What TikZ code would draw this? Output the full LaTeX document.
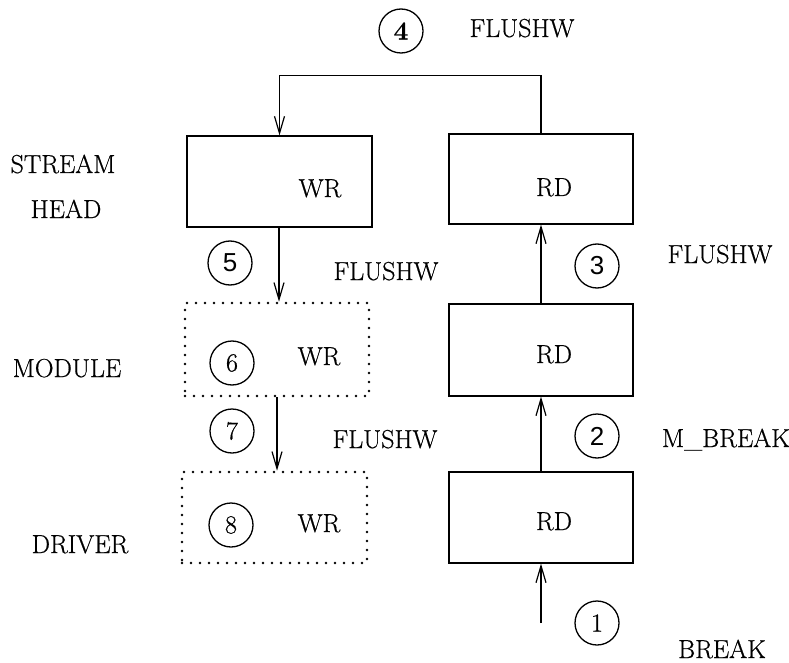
\documentclass[tikz,border=0pt]{standalone}
\usepackage{fontspec}
\newfontfamily\digsans{Liberation Sans}
\newfontfamily\heavy{Latin Modern Roman}[FakeBold=0.6]
\usetikzlibrary{arrows.meta}
\tikzset{
  lbl/.style={font=\heavy\fontsize{26}{30}\selectfont, inner sep=0pt, anchor=base},
  solidbox/.style={draw, line width=1.2pt, minimum width=184pt, minimum height=91pt, inner sep=0pt},
  dotbox/.style={draw, line width=2.6pt, line cap=round, dash pattern=on 0pt off 9pt, minimum width=184pt, minimum height=92pt, inner sep=0pt},
  num/.style={draw, circle, line width=1.3pt, minimum size=44pt, inner sep=0pt, font=\heavy\fontsize{26}{30}\selectfont},
  arr/.style={line width=1.2pt, -{Straight Barb[length=17pt,width=10pt,line width=1.2pt]}}
}
\begin{document}
\begin{tikzpicture}[x=1pt,y=-1pt]
\useasboundingbox (0,0) rectangle (789,663);
% boxes
\node[solidbox, minimum width=185pt] (shwr) at (279.5,181.5) {};
\node[solidbox, minimum height=90pt] (shrd) at (541,179) {};
\node[dotbox, minimum height=93pt] (modwr) at (277,349.5) {};
\node[solidbox, minimum height=92pt] (modrd) at (541,350) {};
\node[dotbox, minimum width=185pt, minimum height=91pt] (drvwr) at (274.5,517.5) {};
\node[solidbox] (drvrd) at (541,517.5) {};
% box texts
\node[lbl] (t-shwr) at (320,197) {WR};
\node[lbl] (t-shrd) at (554,196) {RD};
\node[lbl] (t-modwr) at (319,365) {WR};
\node[lbl] (t-modrd) at (554,363) {RD};
\node[lbl] (t-drvwr) at (319,532) {WR};
\node[lbl] (t-drvrd) at (554,530) {RD};
% left labels
\node[lbl] (l-stream) at (63,173) {STREAM};
\node[lbl] (l-head) at (66,218) {HEAD};
\node[lbl] (l-module) at (67,377) {MODULE};
\node[lbl] (l-driver) at (80,553) {DRIVER};
% message labels
\node[lbl] (m4) at (522,37) {FLUSHW};
\node[lbl] (m5) at (386,280) {FLUSHW};
\node[lbl] (m7) at (385,448) {FLUSHW};
\node[lbl] (m3) at (720,263) {FLUSHW};
\node[lbl] (m2) at (726,447) {M\_BREAK};
\node[lbl] (m1) at (722,658) {BREAK};
% numbered circles
\node[num] (c1) at (597,623) {1};
\node[num] (c2) at (597,436) {\digsans 2};
\node[num] (c3) at (597,266) {\digsans 3};
\node[num] (c4) at (401,31) {\bfseries 4};
\node[num] (c5) at (230,263) {\digsans 5};
\node[num] (c6) at (232,363) {6};
\node[num] (c7) at (232,431) {7};
\node[num] (c8) at (231,525) {8};
% connectors
\coordinate (start) at (541,623);
\draw[arr] (start) -- (drvrd.south);
\draw[arr] (drvrd.north) -- (modrd.south);
\draw[arr] (modrd.north) -- (shrd.south);
\draw[arr] (shrd.north) -- ++(0,-58) -| (shwr.north);
\draw[arr] (shwr.south -| 279,0) -- (modwr.north -| 279,0);
\draw[arr] (modwr.south) -- (drvwr.north -| modwr.south);
\end{tikzpicture}
\end{document}
